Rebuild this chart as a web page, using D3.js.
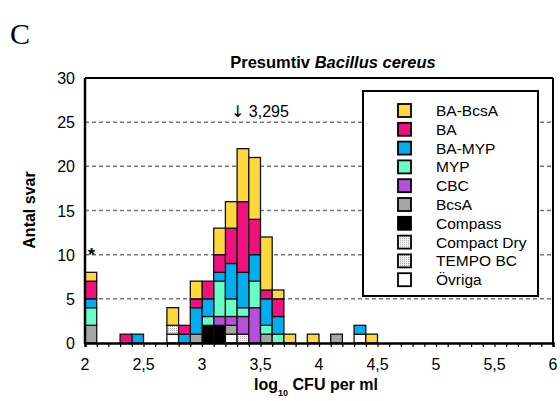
<!DOCTYPE html>
<html>
<head>
<meta charset="utf-8">
<script src="https://cdn.jsdelivr.net/npm/d3@7"></script>
<style>
  body { margin: 0; background: #fff; }
  svg { display: block; font-family: "Liberation Sans", Arial, sans-serif; }
</style>
</head>
<body>
<div id="chart"></div>
<script>
// Data: bins are lower edge of 0.1 log-wide classes
const bins = [2.0, 2.3, 2.4, 2.7, 2.8, 2.9, 3.0, 3.1, 3.2, 3.3, 3.4, 3.5, 3.6, 3.7, 3.9, 4.1, 4.3, 4.4];
const categories = ["BA-BcsA", "BA", "BA-MYP", "MYP", "CBC", "BcsA", "Compass", "Compact Dry", "TEMPO BC", "Övriga"];
const baBcsA     = [1, 0, 0, 2, 0, 2, 0, 3, 3, 6, 7, 6, 1, 1, 1, 0, 0, 1];
const ba         = [2, 1, 0, 0, 1, 1, 2, 2, 4, 8, 4, 1, 2, 0, 0, 0, 0, 0];
const baMyp      = [1, 0, 1, 0, 1, 3, 2, 1, 4, 4, 3, 3, 2, 0, 0, 0, 1, 0];
const myp        = [2, 0, 0, 0, 0, 0, 1, 4, 2, 1, 3, 1, 1, 0, 0, 0, 0, 0];
const cbc        = [0, 0, 0, 0, 0, 0, 0, 1, 1, 2, 4, 0, 0, 0, 0, 0, 0, 0];
const bcsA       = [2, 0, 0, 0, 0, 1, 0, 0, 1, 0, 0, 1, 0, 0, 0, 1, 0, 0];
const compass    = [0, 0, 0, 0, 0, 0, 2, 2, 0, 0, 0, 0, 0, 0, 0, 0, 0, 0];
const compactDry = [0, 0, 0, 1, 0, 0, 0, 0, 0, 1, 0, 0, 0, 0, 0, 0, 0, 0];
const tempoBc    = [0, 0, 0, 0, 0, 0, 0, 0, 0, 0, 0, 0, 0, 0, 0, 0, 0, 0];
const ovriga     = [0, 0, 0, 1, 0, 0, 0, 0, 1, 0, 0, 0, 0, 0, 0, 0, 1, 0];
const xTicks = [2, 2.5, 3, 3.5, 4, 4.5, 5, 5.5, 6];
const yTicks = [0, 5, 10, 15, 20, 25, 30];
const binWidth = 0.1;

const series = [baBcsA, ba, baMyp, myp, cbc, bcsA, compass, compactDry, tempoBc, ovriga];
const colors = ["#ffd83d", "#f0117e", "#00aeef", "#66ffc6", "#b550dc", "#a6a6a6", "#000000",
                "url(#hatch1)", "url(#hatch2)", "#ffffff"];

// table for d3.stack
const table = bins.map((b, i) => {
    const row = { bin: b };
    categories.forEach((c, k) => row[c] = series[k][i]);
    return row;
});

const width = 560, height = 401;
const svg = d3.select("#chart").append("svg")
    .attr("width", width)
    .attr("height", height);

// patterns for the hatched categories
const defs = svg.append("defs");
[["hatch1", "#b0b0b0"], ["hatch2", "#a0a0a0"]].forEach(([id, c]) => {
    const p = defs.append("pattern")
        .attr("id", id)
        .attr("patternUnits", "userSpaceOnUse")
        .attr("width", 2).attr("height", 2);
    p.append("rect").attr("width", 2).attr("height", 2).attr("fill", "#f4f4f4");
    p.append("rect").attr("width", 1).attr("height", 1).attr("fill", c);
});

const x = d3.scaleLinear().domain([2, 6]).range([85, 553]);
const y = d3.scaleLinear().domain([0, 30]).range([343, 78]);

// dashed grid
svg.append("g")
    .selectAll("line")
    .data(yTicks.filter(d => d > 0 && d < 30))
    .join("line")
        .attr("x1", x(2)).attr("x2", x(6))
        .attr("y1", d => y(d)).attr("y2", d => y(d))
        .attr("stroke", "#777")
        .attr("stroke-width", 1.5)
        .attr("stroke-dasharray", "4,3");

// stacked bars, bottom of stack is the last legend entry
const stack = d3.stack().keys(categories.slice().reverse());
const stacked = stack(table);
const colorOf = d3.scaleOrdinal().domain(categories).range(colors);

svg.append("g")
    .selectAll("g")
    .data(stacked)
    .join("g")
        .attr("fill", d => colorOf(d.key))
    .selectAll("rect")
    .data(d => d.filter(s => s[1] > s[0]))
    .join("rect")
        .attr("x", d => x(d.data.bin))
        .attr("width", d => x(d.data.bin + binWidth) - x(d.data.bin))
        .attr("y", d => y(d[1]))
        .attr("height", d => y(d[0]) - y(d[1]))
        .attr("stroke", "#111")
        .attr("stroke-width", 1.3);

// frame
svg.append("line").attr("x1", x(2)).attr("x2", x(6)).attr("y1", y(30)).attr("y2", y(30))
    .attr("stroke", "#000").attr("stroke-width", 2);
svg.append("line").attr("x1", x(6)).attr("x2", x(6)).attr("y1", y(30)).attr("y2", y(0))
    .attr("stroke", "#000").attr("stroke-width", 2);

// x axis with minor ticks every 0.1
const xAxis = svg.append("g").attr("transform", `translate(0,${y(0)})`);
xAxis.call(d3.axisBottom(x).tickValues(d3.range(20, 61).map(d => d / 10))
        .tickSize(4).tickFormat(""))
    .call(g => g.select(".domain").attr("stroke-width", 2.5))
    .call(g => g.selectAll(".tick line").attr("stroke-width", 1.2));
xAxis.selectAll(".lbl")
    .data(xTicks)
    .join("text")
        .attr("class", "lbl")
        .attr("x", d => x(d))
        .attr("y", 27)
        .attr("text-anchor", "middle")
        .attr("fill", "#000")
        .attr("font-size", 16)
        .attr("font-family", "Liberation Sans, Arial, sans-serif")
        .text(d => String(d).replace(".", ","));

// y axis
svg.append("line").attr("x1", x(2)).attr("x2", x(2)).attr("y1", y(30)).attr("y2", y(0) + 1)
    .attr("stroke", "#000").attr("stroke-width", 2.5);
svg.append("g")
    .selectAll("text")
    .data(yTicks)
    .join("text")
        .attr("x", 75)
        .attr("y", d => y(d) + 6)
        .attr("text-anchor", "end")
        .attr("font-size", 16)
        .text(d => d);

// titles
svg.append("text")
    .attr("x", 10).attr("y", 44)
    .attr("font-family", "Liberation Serif, Times New Roman, serif")
    .attr("font-size", 30)
    .text("C");

const title = svg.append("text")
    .attr("x", 333).attr("y", 68)
    .attr("text-anchor", "middle")
    .attr("font-size", 16.5)
    .attr("font-weight", "bold");
title.append("tspan").text("Presumtiv ");
title.append("tspan").attr("font-style", "italic").text("Bacillus cereus");

svg.append("text")
    .attr("transform", "translate(35,210) rotate(-90)")
    .attr("text-anchor", "middle")
    .attr("font-size", 16)
    .attr("font-weight", "bold")
    .text("Antal svar");

const xt = svg.append("text")
    .attr("x", 316).attr("y", 390)
    .attr("text-anchor", "middle")
    .attr("font-size", 16)
    .attr("font-weight", "bold");
xt.append("tspan").text("log");
xt.append("tspan").attr("font-size", 9).attr("dy", 6).text("10");
xt.append("tspan").attr("dy", -6).text(" CFU per ml");

// annotations
svg.append("text")
    .attr("x", 88).attr("y", 261)
    .attr("font-size", 18)
    .attr("font-weight", "bold")
    .text("*");
const note = svg.append("text")
    .attr("x", 231).attr("y", 117)
    .attr("font-size", 16);
note.append("tspan").attr("font-family", "DejaVu Sans, sans-serif").attr("fill", "#000").text("\u2193");
note.append("tspan").text(" 3,295");

// legend
const legend = svg.append("g");
legend.append("rect")
    .attr("x", 363).attr("y", 91)
    .attr("width", 175).attr("height", 205)
    .attr("fill", "#fff")
    .attr("stroke", "#000")
    .attr("stroke-width", 2);
const rows = legend.selectAll("g.row")
    .data(categories)
    .join("g")
        .attr("class", "row")
        .attr("transform", (d, i) => `translate(0,${110.5 + i * 18.8})`);
rows.append("rect")
    .attr("x", 398).attr("y", -6.5)
    .attr("width", 13).attr("height", 13)
    .attr("fill", d => colorOf(d))
    .attr("stroke", "#000")
    .attr("stroke-width", 1.8);
rows.append("text")
    .attr("x", 436).attr("y", 5.5)
    .attr("font-size", 15.5)
    .text(d => d);
</script>
</body>
</html>
